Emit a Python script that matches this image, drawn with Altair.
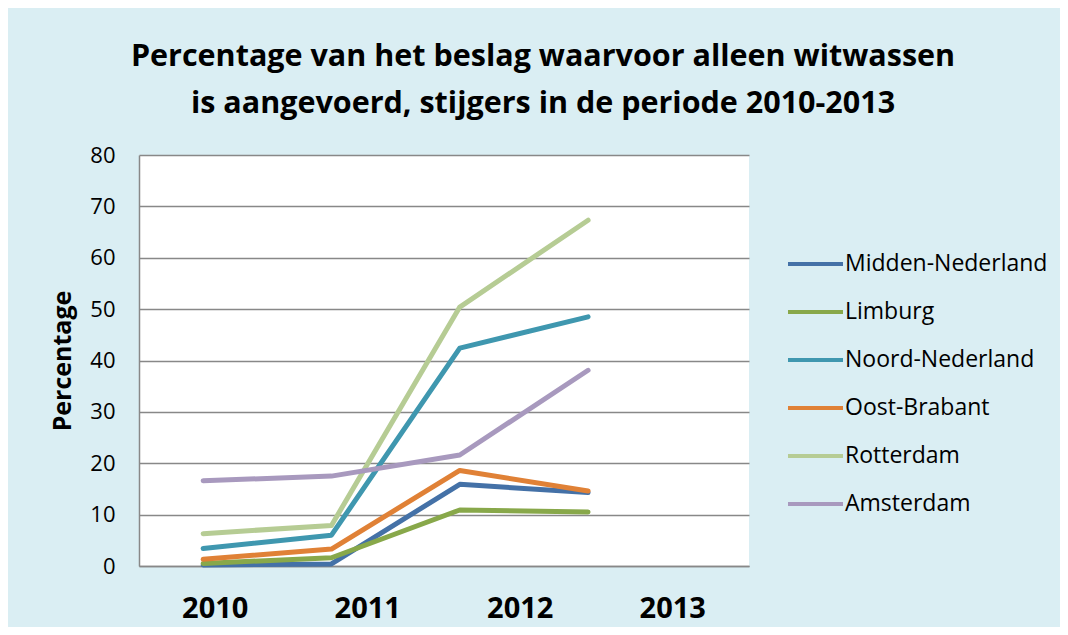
import altair as alt
import pandas as pd

years = ["2010", "2011", "2012", "2013"]
regions = ["Midden-Nederland", "Limburg", "Noord-Nederland", "Oost-Brabant", "Rotterdam", "Amsterdam"]
colors = ["#4471A7", "#88A84A", "#3F97AF", "#E08136", "#B6CC94", "#A899BE"]

midden_nederland = [0.2, 0.4, 15.9, 14.3]
limburg = [0.5, 1.6, 10.9, 10.5]
noord_nederland = [3.4, 6.0, 42.4, 48.5]
oost_brabant = [1.3, 3.3, 18.6, 14.6]
rotterdam = [6.3, 7.9, 50.4, 67.3]
amsterdam = [16.6, 17.5, 21.6, 38.1]

series = [midden_nederland, limburg, noord_nederland, oost_brabant, rotterdam, amsterdam]
rows = []
for name, vals in zip(regions, series):
    for y, v in zip(years, vals):
        rows.append({"region": name, "year": y, "value": v})
df = pd.DataFrame(rows)
df_years = pd.DataFrame({"year": years})

FONT = "Open Sans"

lines = alt.Chart(df).mark_line(strokeWidth=5, strokeCap="round", strokeJoin="round").encode(
    x=alt.X("year:O", sort=years, scale=alt.Scale(type="point", padding=0.877, align=0.285), axis=None),
    y=alt.Y("value:Q", scale=alt.Scale(domain=[0, 80], nice=False),
            axis=alt.Axis(values=list(range(0, 81, 10)), labelFontSize=22, labelFont=FONT,
                          labelColor="black", labelPadding=24, ticks=False,
                          domainColor="#888888", domainWidth=1.5,
                          gridColor="#888888", gridWidth=1.5,
                          title="Percentage", titleFont=FONT, titleFontSize=25,
                          titleFontWeight="bold", titleColor="black",
                          titleX=-77, titleY=205.5, titleAngle=270,
                          titleBaseline="middle", titleAlign="center")),
    color=alt.Color("region:N", sort=regions,
                    scale=alt.Scale(domain=regions, range=colors),
                    legend=alt.Legend(title=None, orient="none", legendX=647, legendY=97,
                                      symbolType="stroke", symbolSize=3025, symbolStrokeWidth=4,
                                      clipHeight=24, rowPadding=24, labelOffset=0,
                                      labelLimit=400,
                                      labelFontSize=23, labelFont=FONT, labelColor="black",
                                      padding=0)),
)

labels = alt.Chart(df_years).mark_point(opacity=0).encode(
    x=alt.X("year:O", sort=years, scale=alt.Scale(type="band", paddingInner=0, paddingOuter=0),
            axis=alt.Axis(orient="bottom", title=None, labelFontSize=29, labelFont=FONT,
                          labelFontWeight="bold", labelColor="black", labelPadding=42,
                          labelBaseline="middle", labelAngle=0, ticks=False, grid=False,
                          domainColor="#888888", domainWidth=1.5)),
)

chart = alt.layer(lines, labels).resolve_scale(x="independent").properties(
    width=610,
    height=411,
    padding={"left": 131, "top": 147, "right": 311, "bottom": 61},
    autosize=alt.AutoSizeParams(type="none"),
    background="#DAEEF3",
    title=alt.Title(
        ["Percentage van het beslag waarvoor alleen witwassen",
         "is aangevoerd, stijgers in de periode 2010-2013"],
        font=FONT, fontSize=30.5, fontWeight="bold", color="black",
        lineHeight=47, anchor="middle", frame="group", dx=99, offset=25,
    ),
).configure_view(fill="white", strokeWidth=0)

chart.save("out.html", embed_options={"renderer": "svg", "actions": False})
